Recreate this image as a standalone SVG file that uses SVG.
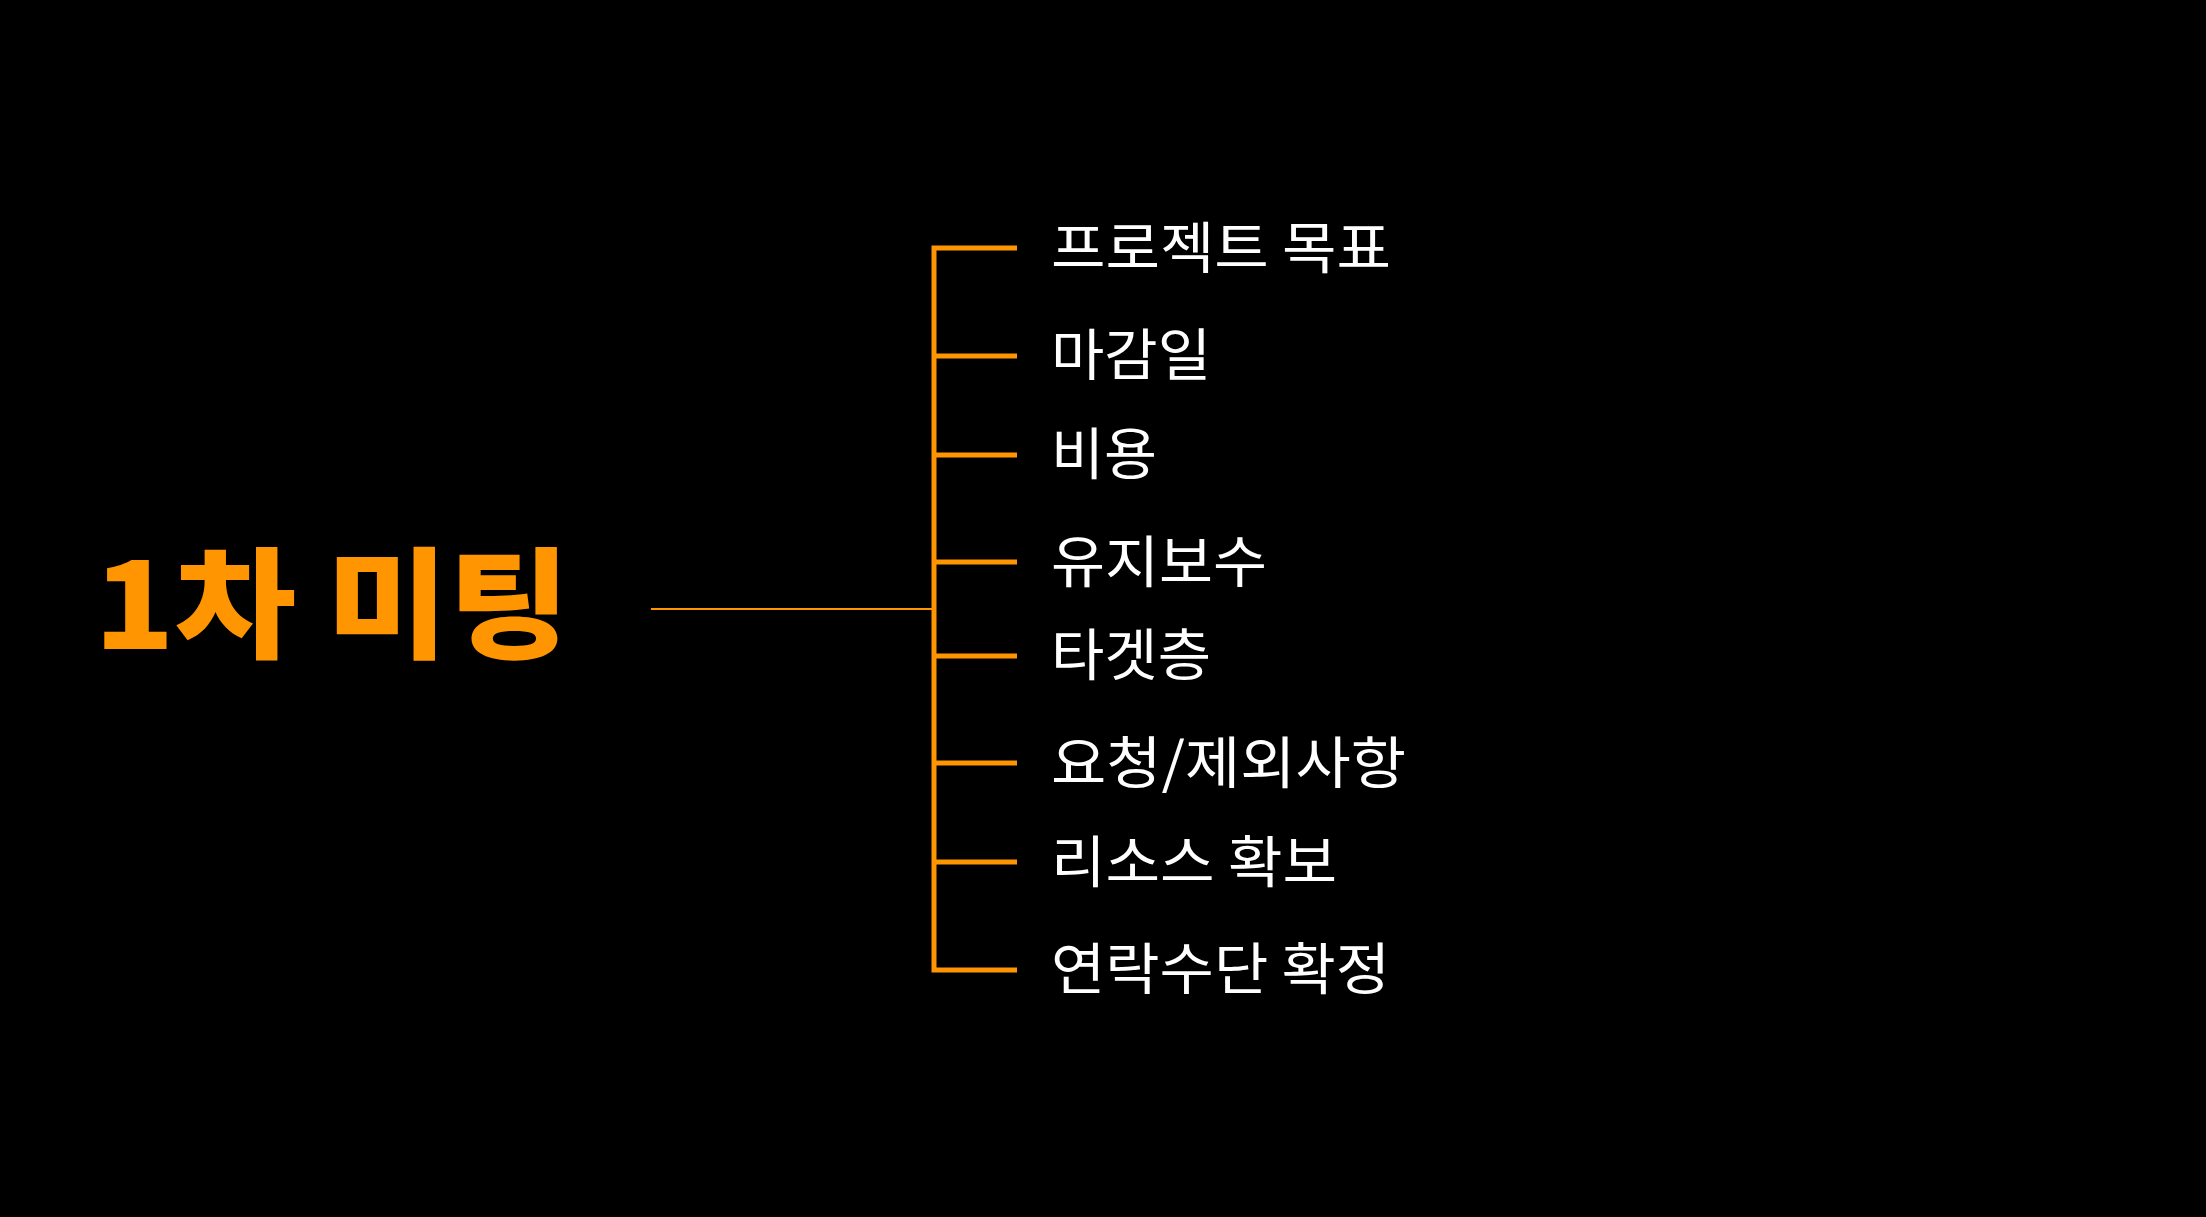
<svg xmlns="http://www.w3.org/2000/svg" width="2206" height="1217" viewBox="0 0 2206 1217">
<style>
.item{font-family:"Noto Sans CJK KR","Noto Sans",sans-serif;font-size:56px;fill:#ffffff;}
.title{font-family:"Noto Sans CJK KR","Noto Sans",sans-serif;font-size:120px;font-weight:900;fill:#FF9500;}
.br{stroke:#FF9500;stroke-width:5;fill:none;}
</style>
<rect x="0" y="0" width="2206" height="1217" fill="#000000"/>
<g id="title"><text class="title" x="94" y="649" textLength="476" lengthAdjust="spacingAndGlyphs">1차 미팅</text></g>
<g id="connectors">
<line x1="651" y1="609" x2="934" y2="609" stroke="#FF9500" stroke-width="2"/>
<polyline class="br" points="1017,248 934,248 934,970 1017,970"/>
<line class="br" x1="934" y1="356" x2="1017" y2="356"/>
<line class="br" x1="934" y1="455" x2="1017" y2="455"/>
<line class="br" x1="934" y1="562" x2="1017" y2="562"/>
<line class="br" x1="934" y1="656" x2="1017" y2="656"/>
<line class="br" x1="934" y1="763" x2="1017" y2="763"/>
<line class="br" x1="934" y1="862" x2="1017" y2="862"/>
</g>
<g id="n1"><text class="item" x="1051" y="268" textLength="340" lengthAdjust="spacingAndGlyphs">프로젝트 목표</text></g>
<g id="n2"><text class="item" x="1051" y="375" textLength="160" lengthAdjust="spacingAndGlyphs">마감일</text></g>
<g id="n3"><text class="item" x="1051" y="474" textLength="106" lengthAdjust="spacingAndGlyphs">비용</text></g>
<g id="n4"><text class="item" x="1051" y="582" textLength="216" lengthAdjust="spacingAndGlyphs">유지보수</text></g>
<g id="n5"><text class="item" x="1051" y="675" textLength="160" lengthAdjust="spacingAndGlyphs">타겟층</text></g>
<g id="n6"><text class="item" x="1051" y="783" textLength="355" lengthAdjust="spacingAndGlyphs">요청/제외사항</text></g>
<g id="n7"><text class="item" x="1051" y="882" textLength="286" lengthAdjust="spacingAndGlyphs">리소스 확보</text></g>
<g id="n8"><text class="item" x="1051" y="989" textLength="339" lengthAdjust="spacingAndGlyphs">연락수단 확정</text></g>
</svg>
